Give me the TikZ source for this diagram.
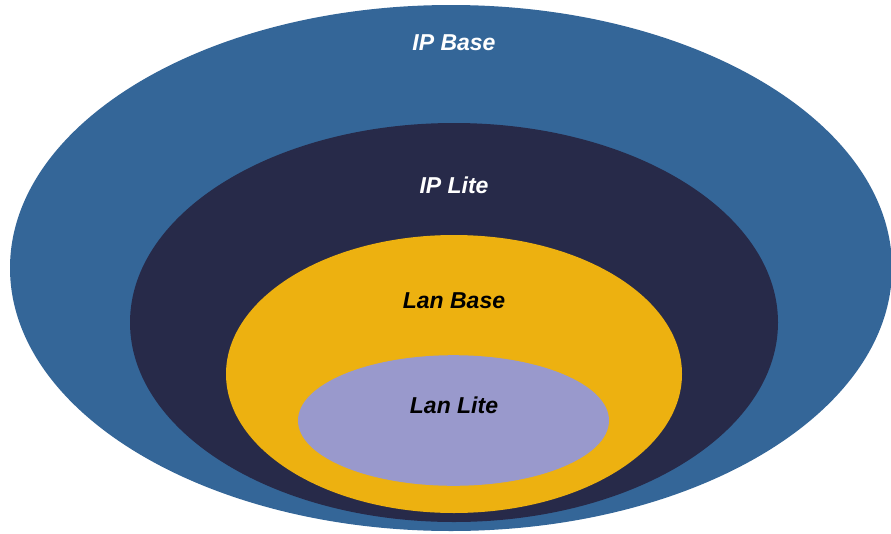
\documentclass[tikz,border=0pt]{standalone}
\usepackage{fontspec}
\setmainfont{Liberation Sans}
\usepackage{tikz}
\definecolor{ipbase}{RGB}{52,102,152}
\definecolor{iplite}{RGB}{39,42,73}
\definecolor{lanbase}{RGB}{237,177,16}
\definecolor{lanlite}{RGB}{153,153,204}
\tikzset{
  label text/.style={font=\fontsize{23}{27}\selectfont\bfseries\itshape},
}

\begin{document}
\begin{tikzpicture}[x=1pt,y=-1pt]
  % frame
  \useasboundingbox (0,0) rectangle (891,533);
  \clip (0,0) rectangle (891,533);

  % IP Base
  \fill[ipbase] (451,268) ellipse [x radius=441, y radius=263];
  \node[label text, text=white] (ip base) at (454,43) {IP Base};

  % IP Lite
  \fill[iplite] (454,322.5) ellipse [x radius=324, y radius=199.5];
  \node[label text, text=white] (ip lite) at (454,185) {IP Lite};

  % Lan Base
  \fill[lanbase] (454,374) ellipse [x radius=228, y radius=139];
  \node[label text, text=black] (lan base) at (454,301) {Lan Base};

  % Lan Lite
  \fill[lanlite] (453.5,420.5) ellipse [x radius=155.5, y radius=65.3];
  \node[label text, text=black] (lan lite) at (454,405) {Lan Lite};

\end{tikzpicture}
\end{document}
